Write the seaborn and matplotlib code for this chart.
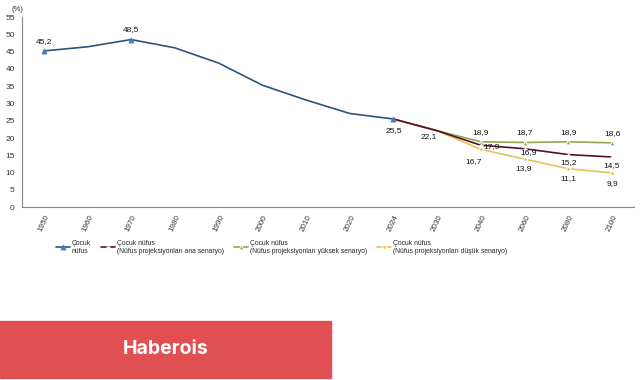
import matplotlib
matplotlib.use('Agg')
import matplotlib.pyplot as plt
import matplotlib.patches as mpatches
import pandas as pd
import seaborn as sns

years = ['1950', '1960', '1970', '1980', '1990', '2000', '2010', '2020', '2024',
         '2030', '2040', '2060', '2080', '2100']

hist_years = ['1950', '1960', '1970', '1980', '1990', '2000', '2010', '2020', '2024']
hist_values = [45.2, 46.4, 48.5, 46.1, 41.7, 35.3, 31.0, 27.1, 25.5]

proj_years = ['2024', '2030', '2040', '2060', '2080', '2100']
main_values = [25.5, 22.1, 17.9, 16.9, 15.2, 14.5]
high_values = [25.5, 22.1, 18.9, 18.7, 18.9, 18.6]
low_values = [25.5, 22.1, 16.7, 13.9, 11.1, 9.9]

labels = ['Çocuk\nnüfus',
          'Çocuk nüfus\n(Nüfus projeksiyonları ana senaryo)',
          'Çocuk nüfus\n(Nüfus projeksiyonları yüksek senaryo)',
          'Çocuk nüfus\n(Nüfus projeksiyonları düşük senaryo)']

sns.set_style('white')
plt.rcParams['font.family'] = ['Liberation Sans', 'DejaVu Sans']

fig = plt.figure(figsize=(6.41, 3.80), dpi=100)
ax = fig.add_axes([0.034, 0.455, 0.955, 0.50])

pos = {y: i for i, y in enumerate(years)}
hist = pd.DataFrame({'x': [pos[y] for y in hist_years], 'v': hist_values})
proj = pd.DataFrame({'x': [pos[y] for y in proj_years], 'main': main_values,
                     'high': high_values, 'low': low_values})

c_blue, c_red, c_green, c_yellow = '#2b557a', '#5a1024', '#8ea64c', '#e9c25a'

sns.lineplot(data=proj, x='x', y='low', ax=ax, color=c_yellow, lw=1.2,
             marker='D', ms=2.5, markevery=[2, 3, 4, 5], label=labels[3])
sns.lineplot(data=proj, x='x', y='high', ax=ax, color=c_green, lw=1.2,
             marker='^', ms=3.5, markevery=[2, 3, 4, 5], label=labels[2])
sns.lineplot(data=proj, x='x', y='main', ax=ax, color=c_red, lw=1.2,
             marker='+', ms=3.5, mew=1, markevery=[2, 3, 4, 5], label=labels[1])
sns.lineplot(data=hist, x='x', y='v', ax=ax, color=c_blue, lw=1.2,
             marker='^', ms=3.5, mfc='#4a7ebb', mec='#4a7ebb', markevery=[0, 2, 8],
             label=labels[0])

fs = 6
def lab(x, y, s, dx=0, dy=0, ha='center'):
    ax.annotate(s, (x, y), xytext=(dx, dy), textcoords='offset points',
                ha=ha, va='center', fontsize=fs, color='#111111')

lab(0, 45.2, '45,2', dy=7)
lab(2, 48.5, '48,5', dy=7)
lab(8, 25.5, '25,5', dy=-8)
lab(9, 22.1, '22,1', dx=-6, dy=-4)
lab(10, 18.9, '18,9', dy=7)
lab(10, 17.9, '17,9', dx=2, dy=-1, ha='left')
lab(10, 16.7, '16,7', dx=-5, dy=-9)
lab(11, 18.7, '18,7', dy=7)
lab(11, 16.9, '16,9', dx=3, dy=-3)
lab(11, 13.9, '13,9', dx=-1, dy=-7)
lab(12, 18.9, '18,9', dy=7)
lab(12, 15.2, '15,2', dy=-6)
lab(12, 11.1, '11,1', dy=-7)
lab(13, 18.6, '18,6', dy=7)
lab(13, 14.5, '14,5', dy=-6)
lab(13, 9.9, '9,9', dy=-8)

ax.set_xlim(-0.5, 13.5)
ax.set_ylim(0, 55)
ax.set_yticks(range(0, 56, 5))
ax.set_xticks(range(len(years)))
ax.set_xticklabels(years, rotation=65, fontsize=5.8, color='#333333')
ax.set_xticks([i - 0.5 for i in range(len(years) + 1)], minor=True)
ax.tick_params(axis='x', which='major', length=0, pad=5)
ax.tick_params(axis='x', which='minor', length=3, color='#888888', direction='out')
ax.tick_params(axis='y', labelsize=6, length=3, color='#888888', direction='out',
               pad=2, labelcolor='#333333')
ax.set_xlabel('')
ax.set_ylabel('')
for s in ['top', 'right']:
    ax.spines[s].set_visible(False)
for s in ['left', 'bottom']:
    ax.spines[s].set_color('#888888')
    ax.spines[s].set_linewidth(0.8)
fig.text(0.018, 0.975, '(%)', fontsize=5.5, color='#333333', va='center')

handles, hl = ax.get_legend_handles_labels()
order = [hl.index(l) for l in labels]
ax.get_legend().remove()
fig.legend([handles[i] for i in order], labels, ncol=4, frameon=False,
           loc='upper left', bbox_to_anchor=(0.078, 0.385), fontsize=4.9,
           handlelength=2.0, handletextpad=0.3, columnspacing=1.5)

fig.patches.append(mpatches.Rectangle((0, 0.005), 331 / 641, 57 / 380,
                                      transform=fig.transFigure,
                                      color='#e05052', zorder=0))
fig.text(166 / 641, 1 - 349 / 380, 'Haberois', color='white', fontsize=14,
         fontweight='bold', family=['Inter', 'DejaVu Sans'], ha='center', va='center')

fig.savefig('out.png', dpi=100)
